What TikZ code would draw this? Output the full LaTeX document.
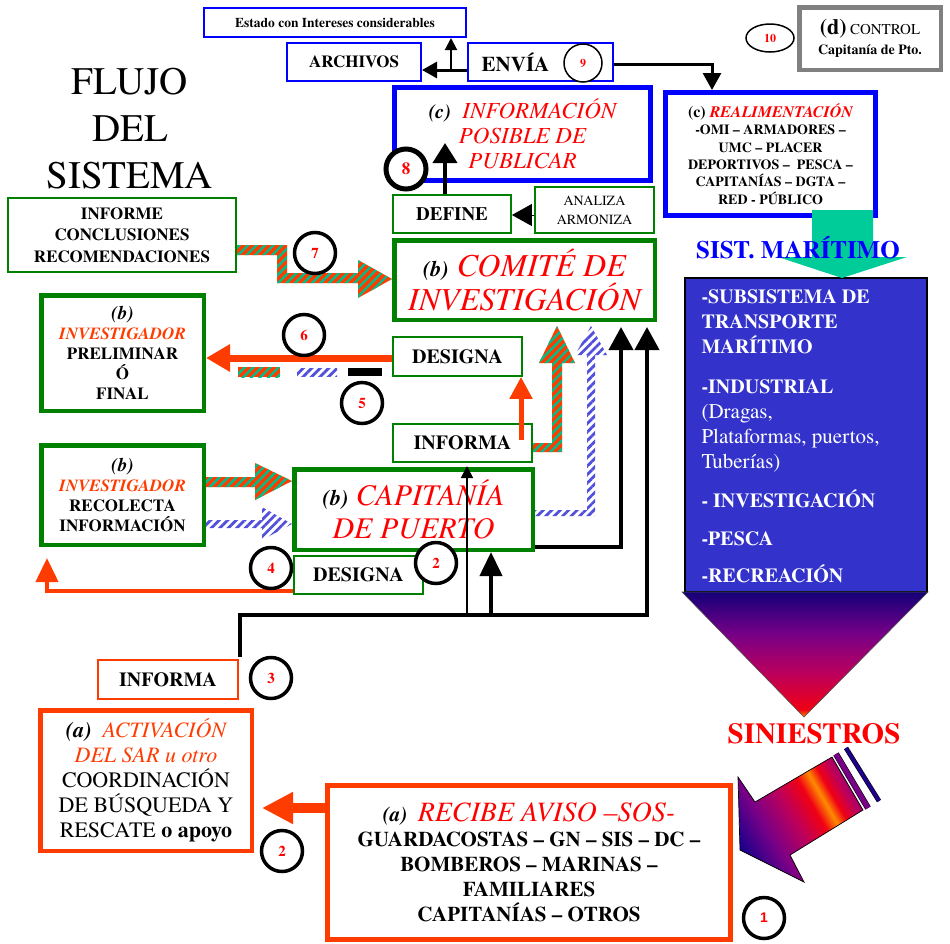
\documentclass[tikz,border=0pt]{standalone}
\usepackage{fontspec}
\IfFontExistsTF{texgyretermes-regular.otf}{\setmainfont{texgyretermes}[Extension=.otf,UprightFont=*-regular,BoldFont=*-bold,ItalicFont=*-italic,BoldItalicFont=*-bolditalic]}{\setmainfont{Liberation Serif}}
\newfontfamily\sansf{Liberation Sans}
\usetikzlibrary{arrows.meta,patterns.meta,shapes.geometric,calc}

\definecolor{ored}{RGB}{255,60,0}
\definecolor{dgreen}{RGB}{0,128,0}
\definecolor{pblue}{RGB}{0,0,255}
\definecolor{sblue}{RGB}{51,51,204}
\definecolor{teal2}{RGB}{0,204,153}
\definecolor{hteal}{RGB}{0,190,140}
\definecolor{hblue}{RGB}{80,80,220}
\definecolor{gray5}{RGB}{128,128,128}
\definecolor{sNavy}{RGB}{20,0,120}
\definecolor{aBlue}{RGB}{30,0,140}
\definecolor{sPur}{RGB}{120,0,135}
\definecolor{sMag}{RGB}{190,0,90}
\definecolor{sRed}{RGB}{240,0,20}
\definecolor{sOr}{RGB}{255,140,0}

\newcommand{\fsz}[2]{\fontsize{#1}{#2}\selectfont}

\pgfdeclareverticalshading{trishade}{100bp}{color(0bp)=(sOr); color(25bp)=(sOr); color(28bp)=(sRed); color(42bp)=(sMag); color(58bp)=(sPur); color(75bp)=(sNavy); color(100bp)=(sNavy)}
\pgfdeclarehorizontalshading{arrshade}{100bp}{color(0bp)=(aBlue); color(24bp)=(aBlue); color(36bp)=(sPur); color(48bp)=(sMag); color(57bp)=(sRed); color(62bp)=(sOr); color(66bp)=(sRed); color(71bp)=(sMag); color(78bp)=(sPur); color(100bp)=(sPur)}

\tikzset{
 bx/.style={draw, inner sep=0pt, align=center, text=black},
 thinG/.style={bx, draw=dgreen, line width=1.8pt},
 thickG/.style={bx, draw=dgreen, line width=4.5pt},
 thinB/.style={bx, draw=pblue, line width=2pt},
 thickB/.style={bx, draw=pblue, line width=5pt},
 thinO/.style={bx, draw=ored, line width=1.8pt},
 thickO/.style={bx, draw=ored, line width=4.5pt},
 numc/.style={circle, draw=black, line width=3.5pt, fill=white, minimum size=41pt, inner sep=0pt, text=red, font=\fsz{15}{15}\bfseries},
 rg/.style={preaction={fill=ored}, pattern={Lines[angle=45,distance=6pt,line width=2.4pt]}, pattern color=hteal},
 bh/.style={preaction={fill=white}, pattern={Lines[angle=45,distance=6pt,line width=2.8pt]}, pattern color=hblue},
 blk/.style={draw=black, line width=4pt},
 bltxt/.style={anchor=base west, text=white, font=\fsz{20}{20}\bfseries},
}

\begin{document}
\begin{tikzpicture}[x=1pt,y=-1pt]
\useasboundingbox[fill=white] (0,0) rectangle (950,943);

% title
\node[font=\fsz{39}{47}, align=center] (title) at (130,129) {FLUJO\\DEL\\SISTEMA};

% top row
\node[thinB, minimum width=262pt, minimum height=29pt, font=\fsz{13.5}{14}\bfseries] (estado) at (335,22.5) {Estado con Intereses considerables};
\node[thinB, minimum width=134pt, minimum height=38pt, font=\fsz{17}{17}\bfseries] (archivos) at (354,62) {ARCHIVOS};
\node[thinB, minimum width=145pt, minimum height=38pt, font=\fsz{21}{21}\bfseries] (envia) at (540.5,62) {ENVÍA\hspace*{50pt}};
\node[circle, draw=black, line width=1.5pt, fill=white, minimum size=38pt, inner sep=0pt, text=red, font=\fsz{12}{12}\bfseries] (c9) at (583,63) {9};
\node[ellipse, draw=black, line width=1.5pt, minimum width=48pt, minimum height=28pt, inner sep=0pt, text=red, font=\fsz{12}{12}\bfseries] (c10) at (770,38) {10};
\node[bx, draw=gray5, line width=4.5pt, minimum width=141.5pt, minimum height=62.5pt, font=\fsz{14}{20}] (control) at (870,38.5) {{\fsz{22}{20}\bfseries (d)} {\fsz{15}{20}CONTROL}\\{\bfseries Capitanía de Pto.}};

\draw[black, line width=3pt, -{Triangle[width=16pt,length=15pt]}] (envia.west |- 0,70) -- (archivos.east |- 0,70);
\draw[black, line width=2pt, -{Triangle[width=12pt,length=12pt]}] (451,70) -- (estado.south -| 451,0);

% realimentacion
\node[thickB, minimum width=210pt, minimum height=123pt, font=\fsz{14}{17.3}\bfseries] (realim) at (770.5,154) {{\fsz{16}{17.3}(c) {\itshape\color{red}REALIMENTACIÓN}}\\-OMI – ARMADORES –\\UMC – PLACER\\DEPORTIVOS – \ PESCA –\\CAPITANÍAS – DGTA –\\RED - PÚBLICO};
\draw[black, line width=3pt, -{Triangle[width=18pt,length=17pt]}] (envia.east |- 0,64) -- (712,64) -- (realim.north -| 712,0);

% maritime system
\node[draw=black, line width=1.2pt, fill=sblue, minimum width=242pt, minimum height=314pt, inner sep=0pt] (sism) at (806,435) {};
\fill[teal2] (812,210) -- (873,210) -- (873,257) -- (907,257) -- (842,278) -- (778,257) -- (812,257) -- cycle;
\node[anchor=base, text=pblue, font=\fsz{25}{25}\bfseries] (sist) at (798,258) {SIST. MARÍTIMO};
\node[bltxt] (b1) at (698,303) {-SUBSISTEMA DE};
\node[bltxt] (b2) at (698,328) {TRANSPORTE};
\node[bltxt] (b3) at (698,353) {MARÍTIMO};
\node[bltxt] (b4) at (698,393) {-INDUSTRIAL};
\node[bltxt, font=\fsz{21}{21}] (b5) at (698,418) {(Dragas,};
\node[bltxt, font=\fsz{21}{21}] (b6) at (698,443) {Plataformas, puertos,};
\node[bltxt, font=\fsz{21}{21}] (b7) at (698,468) {Tuberías)};
\node[bltxt] (b8) at (698,507) {- INVESTIGACIÓN};
\node[bltxt] (b9) at (698,545) {-PESCA};
\node[bltxt] (b10) at (698,582) {-RECREACIÓN};
\shade[shading=trishade, draw=black!70, line width=0.6pt] (682,592) -- (928,592) -- (804,717) -- cycle;
\node[anchor=base, text=red, font=\fsz{29}{29}\bfseries] (sin) at (814,743) {SINIESTROS};

% big arrow
\shade[shading=arrshade, shading angle=30, draw=black, line width=0.7pt] (832,757) -- (755,802) -- (738,777) -- (740,850) -- (804,882) -- (790,855) -- (863,810) -- cycle;
\draw[draw=black, line width=0.6pt, double=sPur, double distance=5pt] (836,754) -- (868,808);
\draw[draw=black, line width=0.6pt, double=aBlue, double distance=3.5pt] (846,748) -- (879,801);

% bottom
\node[thickO, minimum width=403pt, minimum height=154pt, font=\fsz{21}{25}\bfseries] (recibe) at (529,862.5) {{\itshape (a)}\ \ {\fsz{28}{25}\mdseries\itshape\color{red}RECIBE AVISO –SOS-}\\GUARDACOSTAS – GN – SIS – DC –\\BOMBEROS – MARINAS –\\FAMILIARES\\CAPITANÍAS – OTROS};
\node[thickO, minimum width=211.5pt, minimum height=140.5pt, font=\fsz{22}{25}] (activ) at (146,780.5) {{\bfseries\itshape (a)}\ \ {\itshape\color{ored}ACTIVACIÓN}\\{\itshape\color{ored}DEL SAR u otro}\\COORDINACIÓN\\DE BÚSQUEDA Y\\RESCATE \textbf{o apoyo}};
\coordinate (t2) at (262,808);
\draw[draw=ored, line width=10pt, -{Triangle[width=30pt,length=31pt]}] (recibe.west |- t2) -- (t2);
\node[thinO, minimum width=140pt, minimum height=39pt, font=\fsz{20}{20}\bfseries] (informaL) at (168,679.5) {INFORMA};

% middle boxes
\node[thickG, minimum width=238.5pt, minimum height=80.5pt, font=\fsz{30}{33}] (capit) at (413.5,509.5) {{\fsz{22}{33}\bfseries\itshape (b)} {\itshape\color{red}CAPITANÍA}\\{\itshape\color{red}DE PUERTO}};
\node[thinG, minimum width=129pt, minimum height=38pt, font=\fsz{20}{20}\bfseries] (designaL) at (358.5,575) {DESIGNA};
\node[thickG, minimum width=162.5pt, minimum height=99.5pt, font=\fsz{17}{20}\bfseries] (recol) at (122.5,495) {{\fsz{19}{20}\itshape (b)}\\{\itshape\color{ored}INVESTIGADOR}\\RECOLECTA\\INFORMACIÓN};
\node[thickG, minimum width=162.5pt, minimum height=115.5pt, font=\fsz{17}{20}\bfseries] (prelim) at (122.5,353) {{\fsz{19}{22}\itshape (b)}\\{\itshape\color{ored}INVESTIGADOR}\\PRELIMINAR\\Ó\\FINAL};
\node[thinG, minimum width=129pt, minimum height=39pt, font=\fsz{20}{20}\bfseries] (designaU) at (457.5,356.5) {DESIGNA};
\node[thinG, minimum width=139pt, minimum height=38pt, font=\fsz{20}{20}\bfseries] (informaU) at (462.5,443) {INFORMA};
\node[thickG, minimum width=260.5pt, minimum height=79.5pt, font=\fsz{32}{34}] (comite) at (524.5,280) {{\fsz{22}{34}\bfseries\itshape (b)} {\itshape\color{red}COMITÉ DE}\\{\itshape\color{red}INVESTIGACIÓN}};
\node[thinG, minimum width=118pt, minimum height=38pt, font=\fsz{19}{19}\bfseries] (define) at (452,214) {DEFINE};
\node[thinG, minimum width=119pt, minimum height=46pt, font=\fsz{14}{19}] (analiza) at (594.5,210) {ANALIZA\\ARMONIZA};
\node[thickB, minimum width=256pt, minimum height=93pt, font=\fsz{23}{25}] (infor) at (522.5,134) {{\fsz{20}{25}\bfseries\itshape (c)}\ \ {\itshape\color{red}INFORMACIÓN}\\{\itshape\color{red}POSIBLE DE}\\{\itshape\color{red}PUBLICAR}};
\node[thinG, minimum width=228pt, minimum height=74pt, font=\fsz{17}{21.5}\bfseries] (informe) at (122,235) {INFORME\\CONCLUSIONES\\RECOMENDACIONES};

% black connectors
\coordinate (j0) at (240,657);
\coordinate (j1) at (240,615);
\coordinate (jA) at (467,615);
\coordinate (jB) at (491,615);
\coordinate (jC) at (647,615);
\coordinate (k1) at (621,547);
\draw[blk, -{Triangle[width=24pt,length=23pt]}] (j0) -- (j1) -- (jC) -- (jC |- 0,327);
\draw[blk, -{Triangle[width=22pt,length=24pt]}] (jB) -- (capit.south -| jB);
\draw[black, line width=1.6pt, -{Triangle[width=12pt,length=12pt]}] (jA) -- (jA |- 0,466);
\draw[blk, -{Triangle[width=24pt,length=23pt]}] (capit.east |- k1) -- (k1) -- (k1 |- 0,327);
\draw[black, line width=1pt, -{Triangle[width=22pt,length=20pt]}] (analiza.west |- 0,215) -- (define.east |- 0,215);
\draw[blk, -{Triangle[width=24pt,length=20pt]}] (define.north -| 445,0) -- (445,143);

% orange connectors
\coordinate (o4) at (47,591);
\draw[draw=ored, line width=4pt, -{Triangle[width=22pt,length=24pt]}] (designaL.west |- o4) -- (o4) -- (o4 |- 0,558);
\draw[draw=ored, line width=7pt, -{Triangle[width=26pt,length=24pt]}] (designaU.west |- 0,358) -- (prelim.east |- 0,358);
\coordinate (oU) at (521,440);
\draw[draw=ored, line width=5pt, -{Triangle[width=22pt,length=22pt]}] (oU) -- (designaU.south -| oU);

% hatched arrows
\path[rg] (237,245) -- (287,245) -- (287,273) -- (358,273) -- (358,260) -- (392,279) -- (358,298) -- (358,283) -- (277,283) -- (277,255) -- (237,255) -- cycle;
\path[rg] (206,477) -- (255,477) -- (255,463) -- (292,481) -- (255,500) -- (255,487) -- (206,487) -- cycle;
\path[bh] (206,520) -- (262,520) -- (262,507) -- (292,524) -- (262,540) -- (262,528) -- (206,528) -- cycle;
\path[rg] (533,443) -- (552,443) -- (552,363) -- (539,363) -- (557,326) -- (575,363) -- (562,363) -- (562,452) -- (533,452) -- cycle;
\path[bh] (535,510) -- (587,510) -- (587,355) -- (575,355) -- (591,326) -- (607,355) -- (595,355) -- (595,516) -- (535,516) -- cycle;
\path[rg] (238,367) rectangle (280,377);
\path[bh] (297,368) rectangle (337,376);
\fill[black] (348,368) rectangle (382,376);

% numbered circles
\node[numc, font=\fsz{14}{14}\sansf\bfseries] (n1) at (764,918) {1};
\node[numc] (n2b) at (282,851) {2};
\node[numc] (n3) at (271,678) {3};
\node[numc] (n4) at (271,568) {4};
\node[numc] (n2a) at (436,563) {2};
\node[numc] (n5) at (362,403) {5};
\node[numc] (n6) at (304,335) {6};
\node[numc] (n7) at (315,253) {7};
\node[numc, line width=5pt, minimum size=40pt, font=\fsz{17}{17}\bfseries] (n8) at (406,169) {8};
\end{tikzpicture}
\end{document}
